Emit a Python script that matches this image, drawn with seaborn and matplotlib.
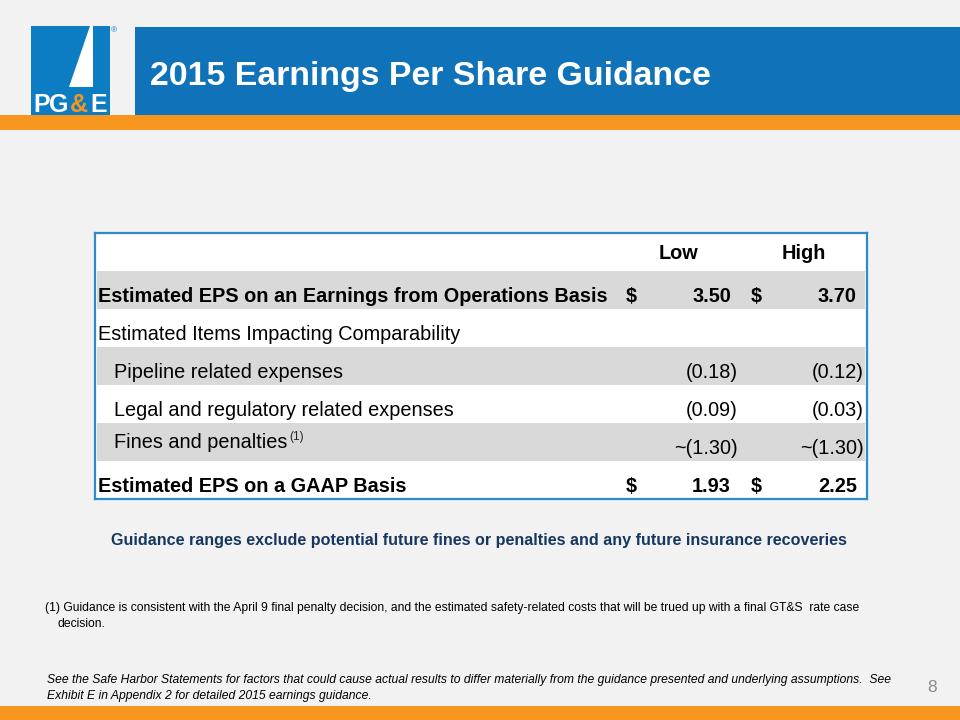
import pandas as pd
import matplotlib.pyplot as plt
import matplotlib.patches as mpatches
from matplotlib.transforms import blended_transform_factory
import seaborn as sns

# Table content
row_labels = [
    "Estimated EPS on an Earnings from Operations Basis",
    "Estimated Items Impacting Comparability",
    "Pipeline related expenses",
    "Legal and regulatory related expenses",
    "Fines and penalties",
    "Estimated EPS on a GAAP Basis",
]
low_values = [3.50, None, -0.18, -0.09, -1.30, 1.93]
high_values = [3.70, None, -0.12, -0.03, -1.30, 2.25]
approx_rows = [False, False, False, False, True, False]
bold_rows = [True, False, False, False, False, True]
indent_rows = [False, False, True, True, True, False]
dollar_rows = [True, False, False, False, False, True]
column_headers = ["Low", "High"]

title = "2015 Earnings Per Share Guidance"
note_line = ("Guidance ranges exclude potential future fines or penalties "
             "and any future insurance recoveries")
footnote = ["(1) Guidance is consistent with the April 9 final penalty decision, and the estimated "
            "safety-related costs that will be trued up with a final GT&S  rate case",
            "decision."]
safe_harbor = ["See the Safe Harbor Statements for factors that could cause actual results to differ "
               "materially from the guidance presented and underlying assumptions.  See",
               "Exhibit E in Appendix 2 for detailed 2015 earnings guidance."]

BLUE = "#1072B8"
LOGO_BLUE = "#0C7DC2"
ORANGE = "#F7961E"
BG = "#F2F2F2"
BAND = "#D9D9D9"
FS = 14.3

sns.set_theme(style="white")
plt.rcParams['font.family'] = ['Liberation Sans', 'DejaVu Sans']

fig = plt.figure(figsize=(9.6, 7.2), dpi=100, facecolor=BG)
ax = fig.add_axes([0, 0, 1, 1])
ax.set_xlim(0, 960)
ax.set_ylim(720, 0)
ax.axis('off')

# header band, logo and orange bars
ax.add_patch(mpatches.Rectangle((135, 27), 825, 88, color=BLUE, lw=0))
ax.add_patch(mpatches.Rectangle((0, 115), 960, 15, color=ORANGE, lw=0))
ax.add_patch(mpatches.Rectangle((0, 706), 960, 14, color=ORANGE, lw=0))
ax.add_patch(mpatches.Rectangle((31, 26), 79, 89, color=LOGO_BLUE, lw=0))
ax.add_patch(mpatches.Polygon([(90, 26), (92.5, 26), (92.5, 87), (69, 87)],
                              closed=True, color='white', lw=0))
for ch, cx, col in zip("PG&E", [41.5, 59, 79, 99], ['white', 'white', ORANGE, 'white']):
    ax.text(cx, 112, ch, color=col, fontsize=18, fontweight='bold', ha='center', va='baseline')
ax.text(114, 31, "®", color=LOGO_BLUE, fontsize=6, ha='center', va='center')

ax.text(150, 76, title, color='white', fontsize=24.4, fontweight='bold', va='center')

# table
n_rows = len(row_labels) + 1
ax_t = fig.add_axes([95 / 960, 1 - 499 / 720, 772 / 960, 266 / 720])
ax_t.set_facecolor('white')
table_df = pd.DataFrame({
    'row': ['header'] + row_labels,
    'span': [1.0] * n_rows,
    'shade': ['white' if i % 2 == 0 else 'gray' for i in range(n_rows)],
})
sns.barplot(data=table_df, x='span', y='row', hue='shade', orient='h', dodge=False,
            palette={'white': 'white', 'gray': BAND}, width=1.0, saturation=1,
            errorbar=None, legend=False, linewidth=0, ax=ax_t)
ax_t.set_xlim(-0.003, 1.003)
ax_t.set_xticks([])
ax_t.set_yticks([])
ax_t.set_xlabel('')
ax_t.set_ylabel('')
for s in ax_t.spines.values():
    s.set_visible(True)
    s.set_color('#2E8BC9')
    s.set_linewidth(1.6)

tr = blended_transform_factory(ax.transData, ax_t.transData)
for hx, htxt in zip([678, 804], column_headers):
    ax_t.text(hx, 0.05, htxt, transform=tr, fontsize=FS, fontweight='bold',
              ha='center', va='center', color='black')


def fmt(v, approx):
    if v is None:
        return ''
    s = f"{abs(v):.2f}"
    if v < 0:
        s = f"({s})"
    return ('~' + s) if approx else s


for i, lab in enumerate(row_labels):
    y = i + 1
    weight = 'bold' if bold_rows[i] else 'normal'
    x0 = 114 if indent_rows[i] else 98
    ly = y + (0.0 if approx_rows[i] else 0.17)
    ax_t.text(x0, ly, lab, transform=tr, fontsize=FS, fontweight=weight,
              ha='left', va='center', color='black')
    if approx_rows[i]:
        ax_t.text(289, y - 0.12, "(1)", transform=tr, fontsize=8.5, ha='left', va='center')
    vy = y + (0.16 if approx_rows[i] else 0.17)
    for v, xr, xd in [(low_values[i], 731, 626), (high_values[i], 857, 751)]:
        if v is None:
            continue
        txt = fmt(v, approx_rows[i])
        xx = xr + 7 if v < 0 else xr
        ax_t.text(xx, vy, txt, transform=tr, fontsize=FS, fontweight=weight,
                  ha='right', va='center', color='black')
        if dollar_rows[i]:
            ax_t.text(xd, vy, "$", transform=tr, fontsize=FS, fontweight=weight,
                      ha='left', va='center', color='black')

# notes
ax.text(479, 540, note_line, color='#17375E', fontsize=11.6, fontweight='bold',
        ha='center', va='center')
ax.text(45, 608, footnote[0], fontsize=8.75, va='center', color='black')
ax.text(57, 624, footnote[1], fontsize=8.75, va='center', color='black')
ax.text(47, 680, safe_harbor[0], fontsize=8.75, style='italic', va='center', color='black')
ax.text(47, 696, safe_harbor[1], fontsize=8.75, style='italic', va='center', color='black')
ax.text(932, 687, "8", fontsize=12.5, color='#8C8C8C', ha='center', va='center')

fig.savefig('out.png', dpi=100, facecolor=BG)
